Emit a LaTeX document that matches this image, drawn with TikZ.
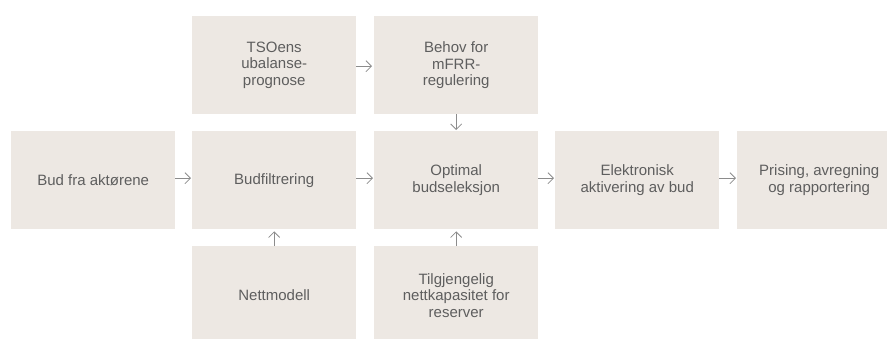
\documentclass[tikz,border=0pt]{standalone}
\usepackage{fontspec}
\setmainfont{Liberation Sans}
\usetikzlibrary{arrows.meta}
\definecolor{boxfill}{HTML}{EDE8E3}
\definecolor{boxtext}{HTML}{5E5E5E}
\definecolor{arrowgray}{HTML}{8C8C8C}
\tikzset{
  stage/.style={fill=boxfill, draw=none, inner sep=0pt, anchor=north west,
    minimum width=164pt, minimum height=98pt, align=center,
    text=boxtext, font=\fontsize{15pt}{16.5pt}\selectfont},
  flow/.style={draw=arrowgray, line width=0.8pt,
    -{Straight Barb[length=5.5pt,width=11pt,line width=0.8pt]}}
}
\begin{document}
\begin{tikzpicture}[x=1pt,y=-1pt]
\useasboundingbox (0,0) rectangle (887,338);
\begin{scope}
\clip (0,0) rectangle (887,338);
% top row
\node[stage] (prog)  at (192,16)  {TSOens\\ubalanse-\\prognose};
\node[stage] (behov) at (374,16)  {Behov for\\mFRR-\\regulering};
% main row
\node[stage] (bud)   at (11,131)  {Bud fra aktørene};
\node[stage] (filt)  at (192,131) {Budfiltrering};
\node[stage] (opt)   at (374,131) {Optimal\\budseleksjon};
\node[stage] (akt)   at (555,131) {Elektronisk\\aktivering av bud};
\node[stage] (pris)  at (737,131) {Prising, avregning\\og rapportering};
% bottom row
\node[stage] (nett)  at (192,246) {Nettmodell};
\node[stage] (kap)   at (374,246) {Tilgjengelig\\nettkapasitet for\\reserver};
\end{scope}
% connectors
\draw[flow] ([yshift=-1pt]prog.east) -- ([xshift=-2pt,yshift=-1pt]behov.west);
\draw[flow] (behov.south) -- ([yshift=1pt]opt.north);
\draw[flow] ([yshift=2pt]bud.east)  -- ([xshift=-1pt,yshift=2pt]filt.west);
\draw[flow] ([yshift=2pt]filt.east) -- ([xshift=-1pt,yshift=2pt]opt.west);
\draw[flow] ([yshift=2pt]opt.east)  -- ([xshift=-1pt,yshift=2pt]akt.west);
\draw[flow] ([yshift=2pt]akt.east)  -- ([xshift=-1pt,yshift=2pt]pris.west);
\draw[flow] (nett.north) -- ([yshift=-2pt]filt.south);
\draw[flow] (kap.north)  -- ([yshift=-2pt]opt.south);
\end{tikzpicture}
\end{document}
